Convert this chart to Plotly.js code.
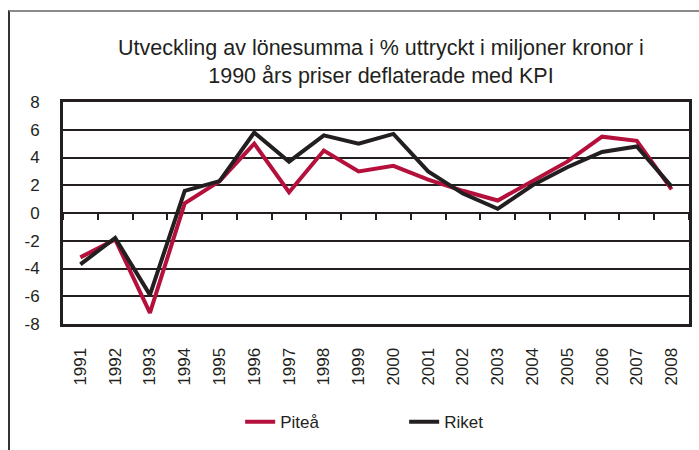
<!DOCTYPE html>
<html>
<head>
<meta charset="utf-8">
<script src="https://cdn.plot.ly/plotly-3.0.1.min.js"></script>
<style>
  html, body { margin: 0; padding: 0; background: #fff; }
  #wrap { position: relative; width: 699px; height: 450px; overflow: hidden; }
  #chart { position: absolute; left: 0; top: 0; width: 699px; height: 450px; }
  #frame { position: absolute; left: 8px; top: 10px; width: 760px; height: 500px;
           border-top: 2px solid #8a8a8a; border-left: 2px solid #333; pointer-events: none; }
</style>
</head>
<body>
<div id="wrap">
  <div id="chart"></div>
  <div id="frame"></div>
</div>
<script>
const years = ['1991','1992','1993','1994','1995','1996','1997','1998','1999',
               '2000','2001','2002','2003','2004','2005','2006','2007','2008'];
const pitea = [-3.2, -1.9, -7.2, 0.7, 2.3, 5.0, 1.5, 4.5, 3.0,
               3.4, 2.4, 1.6, 0.9, 2.3, 3.7, 5.5, 5.2, 1.7];
const riket = [-3.7, -1.8, -5.9, 1.6, 2.3, 5.8, 3.7, 5.6, 5.0,
               5.7, 3.0, 1.4, 0.3, 2.0, 3.3, 4.4, 4.8, 1.9];
const yTicks = [-8, -6, -4, -2, 0, 2, 4, 6, 8];
const titleLines = ['Utveckling av lönesumma i % uttryckt i miljoner kronor i',
                    '1990 års priser deflaterade med KPI'];

const ink = '#231f20';
const font = 'Liberation Sans, Arial, sans-serif';

const traces = [
  { x: years, y: pitea, name: 'Piteå', type: 'scatter', mode: 'lines',
    line: { color: '#b5103c', width: 4 }, xaxis: 'x', yaxis: 'y' },
  { x: years, y: riket, name: 'Riket', type: 'scatter', mode: 'lines',
    line: { color: ink, width: 4 }, xaxis: 'x2', yaxis: 'y' }
];

const layout = {
  width: 699, height: 450,
  margin: { l: 63, r: 10, t: 102, b: 122 },
  paper_bgcolor: 'rgba(0,0,0,0)', plot_bgcolor: '#fff',
  font: { family: font, size: 16, color: ink },
  title: { text: titleLines.join('<br>'), x: 0.545, xanchor: 'center',
           y: 0.878, yanchor: 'middle', font: { family: font, size: 21.5, color: ink } },
  showlegend: true,
  legend: { orientation: 'h', x: 0.283, xanchor: 'left', y: -0.442, yanchor: 'middle',
            entrywidth: 119, entrywidthmode: 'pixels',
            font: { family: font, size: 17, color: ink }, traceorder: 'normal' },
  xaxis: { type: 'category', categoryorder: 'array', categoryarray: years,
           range: [-0.5, years.length - 0.5], showgrid: false, zeroline: false,
           showline: true, linecolor: ink, linewidth: 3, mirror: true,
           ticks: '', tickangle: -90, ticklabelstandoff: 14,
           tickfont: { family: font, size: 17, color: ink } },
  xaxis2: { type: 'category', categoryorder: 'array', categoryarray: years,
            range: [-0.5, years.length - 0.5], overlaying: 'x', anchor: 'free', position: 0.5,
            showgrid: false, zeroline: false, showline: false, showticklabels: false,
            ticks: 'outside', tickson: 'boundaries', ticklen: 6, tickwidth: 2, tickcolor: ink },
  yaxis: { range: [-8, 8], tickvals: yTicks, ticktext: yTicks.map(String),
           showgrid: true, gridcolor: ink, gridwidth: 2,
           zeroline: true, zerolinecolor: ink, zerolinewidth: 2,
           showline: true, linecolor: ink, linewidth: 3, mirror: true,
           ticks: '', ticklabelstandoff: 17,
           tickfont: { family: font, size: 17, color: ink } }
};

Plotly.newPlot('chart', traces, layout, { staticPlot: true, displayModeBar: false });
</script>
</body>
</html>
